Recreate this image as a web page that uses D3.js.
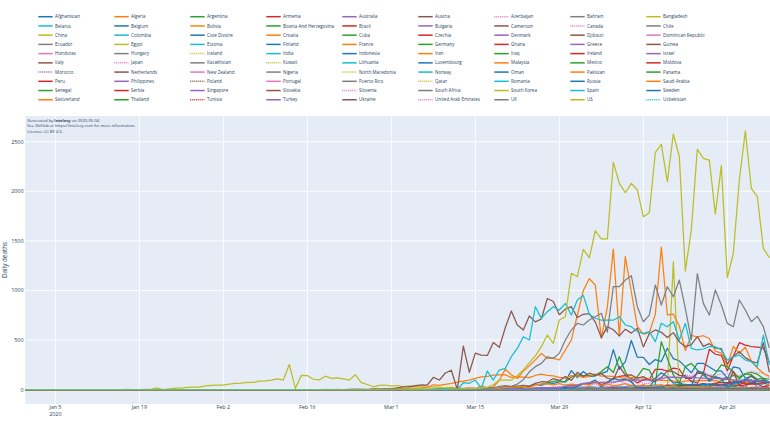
<!DOCTYPE html>
<html>
<head>
<meta charset="utf-8">
<script src="https://cdn.jsdelivr.net/npm/d3@7"></script>
<style>
html,body{margin:0;padding:0;background:#fff;}
svg{display:block;font-family:"Open Sans","DejaVu Sans",sans-serif;}
</style>
</head>
<body>
<svg id="chart" width="770" height="429"></svg>
<script>
// ---------------- DATA (daily deaths, each list starts at its first day in startDates) ----------------
const Afghanistan = [0,1,0,1,2,0,3,1,0,1,3,1,0,4,0,4,0,2,0,0,3,0,1,4,1,2,3,3,2,4,4,4,3];
const Algeria = [2,1,2,6,2,4,4,2,4,2,2,14,21,25,20,22,19,19,20,21,20,21,30,19,18,8,19,19,12,8,10,7,3,6,5,6,8,9,6,6,4,5,4,4,6];
const Argentina = [1,2,1,3,2,2,4,2,3,4,2,3,10,6,8,8,3,6,6,5,4,9,5,6,5,5,4,4,3,8,3,9,6,8,8,5,7,7,4,8];
const Armenia = [1,1,2,1,2,1,1,1,0,1,1,2,2,2,2,0,1,2,2,1,2,1,2,1,2,1,2,2,2,1,1,2,1];
const Australia = [1,1,0,1,1,0,2,1,3,2,1,3,3,2,2,4,5,1,3,2,1,3,2,2,1,2,0,2,4,3,4,2,5,1,1,2,1,4,0,2,0,1,0,0,0];
const Austria = [2,1,3,1,2,6,8,3,12,3,19,18,18,18,18,12,22,22,18,18,18,24,18,12,30,22,15,13,13,15,17,18,9,15,10,20,13,16,12,7,16,15,8,14,13,14,12,8,13,15];
const Azerbaijan = [1,0,1,0,1,1,0,1,1,1,0,1,0,1,0,1,1,0,0,1,0,1,1,0,0,1,1,0,1,0,1,0,1];
const Bahrain = [0,1,0,0,1,0,0,0,0,0,0,0,1,0,0,0,0,1,0,0,0,0,0,1,0,0,0,0,0,0,1,0,0];
const Bangladesh = [0,1,1,1,0,2,1,5,4,6,3,3,4,9,4,14,4,15,7,10,10,19,10,4,5,5,3,2,7,4,5,2,2];
const Belarus = [1,1,1,1,1,2,2,1,3,2,4,3,3,4,5,4,4,4,4,4,4,3,4,4,5,5,4,4,4,5,4,4,4];
const Belgium = [3,0,1,1,3,5,4,0,14,16,30,0,34,36,56,42,69,64,78,82,192,123,183,132,140,164,185,403,205,283,496,327,325,254,303,283,417,313,290,230,170,266,264,228,190,190,113,230,217,115,134,98,82,71];
const Bolivia = [1,1,0,1,1,1,1,1,2,2,3,2,1,2,2,3,3,2,1,3,1,4,3,2,2,5,5,1,4,6,4,5,3];
const BosniaAndHerzegovina = [1,2,1,3,1,2,1,2,1,3,1,2,2,1,0,2,1,0,3,1,1,3,1,0,1,2,2,0,2,3,1,0,1];
const Brazil = [1,3,2,7,7,9,12,11,20,20,15,22,23,42,40,58,60,73,54,67,114,133,141,115,68,99,105,204,204,188,217,206,115,113,166,165,407,357,346,189,338,474,449,435,428,421,275];
const Bulgaria = [1,0,1,2,0,1,0,2,1,0,1,1,0,2,1,1,2,0,1,2,1,2,0,1,2,1,1,2,1,0,1,2,1];
const Cameroon = [0,1,0,2,0,1,0,1,0,3,0,1,0,2,0,0,3,0,1,0,1,0,2,1,0,0,0,1,2,0,1,3,0];
const Canada = [0,3,1,4,1,2,1,6,4,3,5,10,9,20,9,29,30,26,36,39,55,42,60,35,50,68,88,66,48,110,61,63,112,125,126,130,118,151,135,170,183,148,146,156,161,142,142,160,189,172,165,120];
const Chile = [1,0,1,0,1,1,2,0,3,2,4,4,3,3,5,1,5,3,5,2,6,7,6,8,6,5,6,6,10,5,6,6,3,5,6,9,8,10,12,7,9,12,11];
const China = [1,0,0,0,0,0,2,0,0,3,6,17,0,8,16,15,24,26,26,38,43,46,45,57,64,65,73,73,86,89,97,108,97,254,13,143,142,105,98,136,114,118,109,97,150,71,52,29,44,47,35,42,31,38,31,30,28,27,22,17,22,11,7,13,10,14,13,11,8,3,7,6,9,7,4,6,5,3,5,4,1,7,6,4,3,3,1,2,2,1,4,1,2,2,3,0,2,1290,0,0,0,0,0,0,0,0,0,0,0,0,0,0,0,0];
const Colombia = [1,2,0,3,0,2,3,3,4,8,1,3,4,6,5,10,4,4,4,10,11,15,6,6,12,9,8,10,10,12,11,5,7,14,9,11,8,13,15,7,9,16,10];
const CoteDivoire = [0,0,1,0,0,0,0,1,0,0,0,1,0,0,0,1,0,0,0,1,0,0,0,1,0,0,1,0,0,0,1,0,0];
const Croatia = [1,1,2,1,2,1,2,2,1,3,2,1,2,2,2,1,1,3,2,1,3,1,2,0,1,2,0,1,0,1,2,1,1];
const Cuba = [1,0,1,0,1,0,1,1,2,0,2,1,1,3,2,1,2,1,1,3,1,2,0,1,2,1,3,1,0,2,0,1,1];
const Czechia = [1,2,1,3,2,3,2,7,3,8,5,7,8,8,5,8,17,11,9,12,5,4,11,7,10,6,10,12,8,8,3,6,8,9,10,2,8,7,7,4,5,5,8];
const Denmark = [3,1,1,4,4,3,4,4,11,7,13,7,11,13,12,13,18,15,19,14,18,16,19,20,10,19,14,13,12,6,11,14,9,12,10,11,10,9,7,7,10,5,5,9,3,5,9,7,5,7];
const Djibouti = [0,0,0,0,0,0,0,0,1,0,0,0,0,0,0,0,0,0,1,0,0,0,0,0,0,0,0,0,0,0,0,0,0];
const DominicanRepublic = [1,1,2,1,0,3,2,3,5,4,4,6,9,5,3,8,6,8,4,9,8,3,6,7,4,8,6,5,4,6,4,6,5,3,6,3,5,4,6,4,5,4,6,5,3];
const Ecuador = [1,1,0,1,0,0,2,2,2,2,2,7,5,5,12,6,14,7,19,6,25,7,19,5,9,15,17,28,15,49,15,17,14,13,20,34,50,50,55,35,17,26,41,30,49,44,22,100,24,25,62];
const Egypt = [1,0,1,0,1,0,0,2,1,1,1,3,2,1,3,2,2,3,4,5,3,7,6,5,9,7,11,12,9,6,15,7,12,13,14,11,15,11,10,12,13,12,10,15,11,11,9,12,14,13,10,20,12,15,14];
const Estonia = [1,0,1,2,1,0,2,1,3,1,2,1,2,0,1,2,1,1,2,0,1,2,1,0,1,0,2,1,0,1,0,1,0];
const Finland = [1,0,2,1,3,2,1,2,6,3,0,6,8,2,3,7,8,13,5,9,16,8,11,10,13,13,0,16,10,5,4,8,3];
const France = [1,0,0,0,0,1,1,0,2,3,2,8,9,11,15,15,13,18,12,36,21,27,95,207,150,112,186,240,300,365,316,316,299,400,500,750,1000,1120,1053,518,833,1417,541,1341,987,635,561,574,762,1438,753,761,642,395,547,531,544,516,389,369,242,437,367,427,289,218,166,135];
const Germany = [2,0,1,2,2,3,4,4,4,8,11,13,16,24,28,33,49,55,65,84,91,77,128,149,140,145,141,184,232,173,332,181,80,131,215,198,64,484,316,148,64,232,265,198,148,97,165,249,232,181,110,163,173,156,113,74];
const Ghana = [0,1,0,0,0,1,0,0,1,0,0,0,0,1,0,0,0,0,0,0,0,0,0,0,1,0,0,0,1,0,0,0,1];
const Greece = [3,2,3,3,5,4,6,2,6,3,2,3,1,3,3,1,2,3,3,2,4,2,0,3,2,0,4,1,0,0,2,0,1];
const Guinea = [0,0,0,0,0,0,0,0,0,0,0,1,0,1,0,1,0,1,0,0,1,0,0,1,0,0,2,0,0,1,0,1,0];
const Honduras = [1,2,2,1,3,1,2,2,4,1,2,1,3,0,2,4,0,3,4,1,1,2,4,1,2,2,1,3,0,0,3,2,1];
const Hungary = [2,1,3,3,2,5,6,4,8,8,13,14,9,11,12,13,14,10,11,12,14,10,14,13,13,11,8,10,12,13,10,11,9];
const Iceland = [0,0,1,0,0,2,0,1,0,0,0,0,0,0,0,0,0,0,0,0,0,0,0,0,0,0,0,0,0,0,0,0,0];
const India = [1,1,2,3,2,4,3,4,6,5,9,4,9,12,9,12,8,25,24,22,20,33,31,43,35,51,29,36,27,22,31,44,36,41,61,42,54,46,68,66,73,69,83,97,77];
const Indonesia = [3,0,1,2,3,6,5,7,14,7,6,19,13,9,12,17,20,22,21,10,21,15,11,17,30,30,35,36,27,16,12,17,21,39,27,38,6,27,60,18,15,11,7,37,20,23,12,9,18,7];
const Iran = [2,0,2,1,3,4,3,3,7,8,9,11,12,11,15,15,16,21,49,43,54,63,75,85,97,113,129,135,147,149,149,123,129,127,122,143,157,144,139,123,117,141,138,124,134,158,136,136,133,121,117,122,125,117,111,98,94,92,89,73,87,91,88,94,90,93,76,60,96,71,80,71,63,68,47];
const Iraq = [3,4,2,2,2,3,2,3,1,2,2,2,1,0,2,1,1,1,1,2,0,0,1,0,0,1,1,1,0,1,2,1,2];
const Ireland = [1,1,0,0,0,1,0,1,3,2,1,2,7,3,14,10,10,7,14,19,17,22,15,23,16,18,16,10,25,19,12,15,31,28,19,41,43,44,38,29,31,47,44,46,185,38,49,59,55,29,41];
const Israel = [3,2,4,3,2,4,6,8,5,7,6,5,9,11,4,9,5,4,6,3,4,8,5,3,2,3,1,2,4,3,2,1,2];
const Italy = [1,1,1,4,4,1,5,4,8,5,18,27,28,41,49,47,124,97,168,196,0,439,175,368,349,345,475,427,627,793,651,601,743,683,712,919,889,756,812,837,727,760,766,681,525,636,604,542,610,570,619,431,566,602,578,525,575,482,433,454,534,437,464,420,415,260,333,382,323,285,269,474,174];
const Japan = [2,1,2,1,1,2,4,2,4,3,3,4,5,7,4,8,10,9,9,10,7,13,10,17,14,18,13,19,17,22,23,21,12];
const Kazakhstan = [0,1,0,0,1,0,1,0,0,1,0,1,0,0,1,0,0,0,1,0,1,0,0,0,1,0,0,1,0,0,0,1,0];
const Kuwait = [0,0,0,1,0,0,0,0,0,0,0,0,1,0,1,0,0,1,0,0,1,0,1,2,1,1,0,1,2,1,2,3,1];
const Lithuania = [1,0,2,1,1,0,1,2,0,1,2,1,1,0,1,2,1,0,1,0,0,1,1,0,1,0,0,1,0,1,0,0,1];
const Luxembourg = [3,1,3,2,2,1,2,3,1,2,3,1,2,3,1,1,2,0,1,2,1,0,1,1,0,0,1,0,0,0,1,0,0];
const Malaysia = [6,3,7,3,4,2,5,2,3,2,3,2,3,2,1,2,1,3,1,0,2,1,1,0,2,1,1,0,0,1,1,2,0];
const Mexico = [1,0,1,2,2,1,1,5,4,4,8,6,9,8,12,18,19,15,20,16,20,14,26,40,38,41,23,35,36,46,56,53,47,29,12,41,53,96,104,145,125,160,149,106,113,105];
const Moldova = [1,2,0,3,2,2,1,3,2,4,2,3,3,2,4,3,4,5,3,6,4,3,5,4,6,5,4,3,5,6,4,3,2];
const Morocco = [3,4,5,3,4,7,7,6,3,4,6,2,8,2,4,2,1,3,2,5,2,1,3,2,0,4,2,1,3,1,2,1,1];
const Netherlands = [1,0,0,0,1,1,1,5,2,8,4,19,15,15,33,30,36,43,34,63,80,78,112,93,132,93,175,134,166,148,164,115,101,234,147,148,115,132,94,86,122,189,181,144,142,83,67,165,138,123,112,120,43,48,86,145,84,98,69];
const NewZealand = [0,0,0,0,1,0,0,0,0,1,0,0,1,0,2,1,1,2,0,0,1,1,0,0,0,0,1,0,0,0,0,0,0];
const Nigeria = [0,1,0,0,1,0,0,1,0,0,1,1,0,1,1,0,1,0,2,1,1,2,0,1,2,1,3,1,2,3,1,2,4];
const NorthMacedonia = [1,0,1,2,1,0,1,2,1,0,2,1,1,0,2,1,0,1,2,1,0,1,1,0,1,2,0,1,0,1,1,0,1];
const Norway = [4,2,3,1,4,6,8,5,6,3,8,5,4,6,2,4,5,3,2,4,2,5,3,1,1,2,1,2,1,0,1,1,0];
const Oman = [0,1,0,0,0,1,0,0,0,1,0,0,0,0,0,1,0,0,0,0,1,0,0,0,0,0,0,1,0,0,0,1,0];
const Pakistan = [5,4,5,4,4,8,5,5,8,4,5,7,4,6,9,10,5,9,6,16,14,8,11,17,22,22,18,20,18,23,24,19,13];
const Panama = [6,3,4,5,4,3,5,4,3,6,5,3,4,3,5,4,3,4,2,5,3,4,3,2,3,4,3,2,4,3,2,3,4];
const Peru = [1,1,2,0,2,1,2,2,3,6,7,14,14,12,10,13,15,18,17,16,12,18,17,20,26,27,36,47,43,33,46,47,52,61,51,67,72,70,70,82,58,62,63,72,73];
const Philippines = [12,11,3,15,6,0,11,12,9,21,1,5,26,18,10,19,2,15,12,19,4,9,10,10,7,21,11,16,3,20,8,10,19];
const Poland = [2,1,1,2,3,5,4,5,3,8,7,11,6,10,9,10,14,7,8,20,9,11,10,6,17,15,13,7,24,17,30,25,10,12,21,11,14,30,22,19,17,19,13,25,17];
const Portugal = [1,1,1,3,6,8,5,9,10,17,10,16,19,20,22,24,27,23,37,20,25,29,34,35,29,30,35,31,34,28,32,27,32,30,29,23,27,23,26,24,35,20,15,25,18,20,25,16,16];
const PuertoRico = [2,1,1,2,0,1,3,2,1,0,2,1,3,1,1,2,2,0,1,3,1,2,0,1,2,1,0,1,2,0,1,1,0];
const Qatar = [0,0,1,0,0,1,0,0,1,0,0,0,1,0,0,0,1,0,0,1,0,0,0,0,1,0,0,0,1,0,0,0,1];
const Romania = [2,2,3,2,3,6,5,8,10,8,16,19,15,18,12,15,14,24,20,20,17,19,22,21,18,17,20,28,18,19,26,28,18,21,17,25,25,18,14,20,14,12,14];
const Russia = [1,0,0,0,0,2,0,1,0,3,8,4,7,12,4,11,13,11,16,16,17,8,24,22,18,21,28,36,41,33,42,48,45,57,51,57,47,58,66,72,101,96,57,58,76];
const SaudiArabia = [2,5,4,3,3,3,6,6,3,3,3,6,4,6,4,4,6,6,6,5,6,6,5,5,5,7,7,5,7,5,5,8,7];
const Senegal = [0,1,0,0,0,1,0,0,1,0,0,0,1,0,0,1,0,0,1,0,0,0,1,0,1,0,0,1,0,0,1,0,0];
const Serbia = [3,5,7,5,4,6,7,8,6,8,5,7,4,3,4,5,4,3,5,4,3,4,2,3,3,2,4,3,2,1,2,2,1];
const Singapore = [0,0,1,1,0,0,0,0,0,0,1,0,0,0,0,0,0,0,0,0,0,0,1,0,0,0,0,0,1,0,0,0,0];
const Slovakia = [0,0,0,0,0,0,0,1,0,0,0,1,0,2,1,0,2,1,1,2,1,0,1,0,1,0,0,2,0,0,1,0,0];
const Slovenia = [2,3,2,4,3,2,5,2,4,2,1,5,3,2,1,3,2,1,4,3,1,2,3,1,2,1,1,0,2,1,1,2,0];
const SouthAfrica = [0,2,0,2,3,2,1,2,1,5,0,7,4,2,9,4,6,1,2,7,8,6,4,4,1,8,5,10,10,13,7,8,5];
const SouthKorea = [1,1,2,2,2,1,1,3,2,4,1,2,6,4,7,3,4,3,5,6,7,6,5,3,7,3,6,5,3,4,3,3,5,6,7,3,8,3,1,4,3,4,7,4,5,6,4,3,5,8,4,3,6,4,4,3,3,4,3,4,2,1,2,3,2,1,2,1,1,2,1,0,1];
const Spain = [1,0,1,3,0,5,7,11,7,0,70,64,97,14,188,97,198,215,332,416,534,500,836,719,786,836,803,870,752,904,950,760,720,700,700,700,735,652,635,585,568,585,484,669,635,685,500,669,416,400,410,433,433,400,299,332,349,299,282,232,551,249];
const Sweden = [1,0,0,0,2,1,3,3,1,5,6,0,5,9,10,15,13,24,15,34,59,69,96,28,76,114,96,106,77,17,12,20,114,170,130,67,77,29,40,185,172,84,131,111,12,80,81,107,67,88,90,79];
const Switzerland = [1,0,1,1,0,1,3,4,2,6,9,2,10,10,26,21,29,33,19,48,56,58,48,60,45,57,48,60,49,75,42,60,38,48,60,36,38,45,33,41,51,28,41,20,31,30,28,23,19,15,14,13,17,19,14,18,9,12,11];
const Thailand = [2,1,4,3,3,1,2,4,1,2,2,1,2,2,1,1,2,1,1,1,0,0,1,0,0,1,0,0,0,0,1,0,0];
const Tunisia = [1,2,2,1,0,2,1,3,1,2,1,0,1,2,1,3,1,0,1,2,0,1,0,1,0,1,0,0,1,0,0,1,0];
const Turkey = [1,1,2,5,12,9,7,7,15,16,17,16,16,37,37,46,63,69,76,73,75,76,87,96,98,95,97,98,98,107,125,126,121,127,123,119,117,115,115,109,106,99,95,92,89,93,84,78];
const Ukraine = [3,4,5,4,3,6,7,5,5,7,6,8,8,9,8,10,12,13,10,11,9,10,12,14,12,9,10,11,13,16,14,13,12];
const UnitedArabEmirates = [2,2,1,3,2,1,2,4,1,3,4,3,2,5,3,5,4,5,3,4,3,5,4,6,5,4,3,6,7,4,6,5,6];
const UK = [1,1,0,0,2,1,1,2,1,11,14,1,20,16,33,40,33,56,100,180,232,265,332,316,366,500,601,669,652,702,735,770,580,1038,1038,1105,1149,836,685,752,1055,853,1038,937,1105,820,500,1170,870,752,1005,853,668,635,904,803,685,739,635,420];
const US = [1,5,1,3,1,2,1,4,4,4,8,3,7,10,10,18,23,50,97,97,97,140,200,270,340,433,551,467,702,735,1173,1139,1415,1330,1602,1519,1519,2292,2080,1985,2080,2013,1744,1784,2393,2473,2096,2577,2348,1196,1610,2423,2332,2315,1771,2258,1129,1375,2114,2608,2030,1945,1425,1330];
const Uzbekistan = [0,1,0,0,1,0,0,0,0,0,1,0,0,0,0,0,0,0,1,0,0,0,0,1,0,0,0,0,0,1,0,0,0];

// legend order (row by row, 9 per row) and first day of each list
const countries = [
  "Afghanistan","Algeria","Argentina","Armenia","Australia","Austria","Azerbaijan","Bahrain","Bangladesh",
  "Belarus","Belgium","Bolivia","Bosnia And Herzegovina","Brazil","Bulgaria","Cameroon","Canada","Chile",
  "China","Colombia","Cote Divoire","Croatia","Cuba","Czechia","Denmark","Djibouti","Dominican Republic",
  "Ecuador","Egypt","Estonia","Finland","France","Germany","Ghana","Greece","Guinea",
  "Honduras","Hungary","Iceland","India","Indonesia","Iran","Iraq","Ireland","Israel",
  "Italy","Japan","Kazakhstan","Kuwait","Lithuania","Luxembourg","Malaysia","Mexico","Moldova",
  "Morocco","Netherlands","New Zealand","Nigeria","North Macedonia","Norway","Oman","Pakistan","Panama",
  "Peru","Philippines","Poland","Portugal","Puerto Rico","Qatar","Romania","Russia","Saudi Arabia",
  "Senegal","Serbia","Singapore","Slovakia","Slovenia","South Africa","South Korea","Spain","Sweden",
  "Switzerland","Thailand","Tunisia","Turkey","Ukraine","United Arab Emirates","UK","US","Uzbekistan"
];
const seriesValues = [
  Afghanistan,Algeria,Argentina,Armenia,Australia,Austria,Azerbaijan,Bahrain,Bangladesh,
  Belarus,Belgium,Bolivia,BosniaAndHerzegovina,Brazil,Bulgaria,Cameroon,Canada,Chile,
  China,Colombia,CoteDivoire,Croatia,Cuba,Czechia,Denmark,Djibouti,DominicanRepublic,
  Ecuador,Egypt,Estonia,Finland,France,Germany,Ghana,Greece,Guinea,
  Honduras,Hungary,Iceland,India,Indonesia,Iran,Iraq,Ireland,Israel,
  Italy,Japan,Kazakhstan,Kuwait,Lithuania,Luxembourg,Malaysia,Mexico,Moldova,
  Morocco,Netherlands,NewZealand,Nigeria,NorthMacedonia,Norway,Oman,Pakistan,Panama,
  Peru,Philippines,Poland,Portugal,PuertoRico,Qatar,Romania,Russia,SaudiArabia,
  Senegal,Serbia,Singapore,Slovakia,Slovenia,SouthAfrica,SouthKorea,Spain,Sweden,
  Switzerland,Thailand,Tunisia,Turkey,Ukraine,UnitedArabEmirates,UK,US,Uzbekistan
];
const startDates = [
  "2020-04-01","2020-03-20","2020-03-25","2020-04-01","2020-03-20","2020-03-15","2020-04-01","2020-04-01","2020-04-01",
  "2020-04-01","2020-03-11","2020-04-01","2020-04-01","2020-03-18","2020-04-01","2020-04-01","2020-03-13","2020-03-22",
  "2020-01-11","2020-03-22","2020-04-01","2020-04-01","2020-04-01","2020-03-22","2020-03-15","2020-04-01","2020-03-20",
  "2020-03-14","2020-03-10","2020-04-01","2020-04-01","2020-02-26","2020-03-09","2020-04-01","2020-04-01","2020-04-01",
  "2020-04-01","2020-04-01","2020-04-01","2020-03-20","2020-03-15","2020-02-19","2020-04-01","2020-03-14","2020-04-01",
  "2020-02-21","2020-04-01","2020-04-01","2020-04-01","2020-04-01","2020-04-01","2020-04-01","2020-03-19","2020-04-01",
  "2020-04-01","2020-03-06","2020-04-01","2020-04-01","2020-04-01","2020-04-01","2020-04-01","2020-04-01","2020-04-01",
  "2020-03-20","2020-04-01","2020-03-20","2020-03-16","2020-04-01","2020-04-01","2020-03-22","2020-03-20","2020-04-01",
  "2020-04-01","2020-04-01","2020-04-01","2020-04-01","2020-04-01","2020-04-01","2020-02-21","2020-03-03","2020-03-13",
  "2020-03-06","2020-04-01","2020-04-01","2020-03-17","2020-04-01","2020-04-01","2020-03-05","2020-03-01","2020-04-01"
];
const firstDate = "2019-12-31";
const lastDate = "2020-05-03";
const xTickDates = ["2020-01-05","2020-01-19","2020-02-02","2020-02-16","2020-03-01","2020-03-15","2020-03-29","2020-04-12","2020-04-26"];
const xTickLabels = ["Jan 5","Jan 19","Feb 2","Feb 16","Mar 1","Mar 15","Mar 29","Apr 12","Apr 26"];
const yTickValues = [0,500,1000,1500,2000,2500];
const dottedCountries = ["Azerbaijan","Canada","Iceland","Japan","Kuwait","Morocco","North Macedonia","Poland","Qatar","Slovenia","Tunisia","United Arab Emirates","Uzbekistan"];

// ---------------- DRAWING ----------------
const palette = ["#1f77b4","#ff7f0e","#2ca02c","#d62728","#9467bd","#8c564b","#e377c2","#7f7f7f","#bcbd22","#17becf"];
const textColor = "#2a3f5f";
const parse = d3.utcParse("%Y-%m-%d");
const svg = d3.select("#chart");

const plot = {left: 25.33, right: 769.33, top: 116, bottom: 404};
const x = d3.scaleUtc().domain([parse(firstDate), parse(lastDate)]).range([plot.left, plot.right]);
const y = d3.scaleLinear().domain([-144.5, 2758.8]).range([plot.bottom, plot.top]);

svg.append("rect").attr("x", plot.left).attr("y", plot.top)
  .attr("width", 770 - plot.left).attr("height", plot.bottom - plot.top).attr("fill", "#E5ECF6");

svg.append("defs").append("clipPath").attr("id", "clip")
  .append("rect").attr("x", plot.left).attr("y", plot.top)
  .attr("width", 770 - plot.left).attr("height", plot.bottom - plot.top);

const grid = svg.append("g");
grid.selectAll("line.vx").data(xTickDates).join("line")
  .attr("x1", d => x(parse(d))).attr("x2", d => x(parse(d)))
  .attr("y1", plot.top).attr("y2", plot.bottom)
  .attr("stroke", "#fff").attr("stroke-width", 0.9);
grid.selectAll("line.hy").data(yTickValues.filter(v => v !== 0)).join("line")
  .attr("x1", plot.left).attr("x2", 770)
  .attr("y1", d => y(d)).attr("y2", d => y(d))
  .attr("stroke", "#fff").attr("stroke-width", 0.9);
grid.append("line").attr("x1", plot.left).attr("x2", 770)
  .attr("y1", y(0)).attr("y2", y(0)).attr("stroke", "#fff").attr("stroke-width", 1.8);

const series = countries.map((name, i) => {
  const start = parse(startDates[i]);
  const pts = [];
  for (let d = parse(firstDate); d < start; d = d3.utcDay.offset(d, 1)) pts.push([d, 0]);
  seriesValues[i].forEach((v, k) => pts.push([d3.utcDay.offset(start, k), v]));
  return {name, i, pts: pts.filter(p => p[0] <= parse(lastDate))};
});

const line = d3.line().x(p => x(p[0])).y(p => y(p[1]));
svg.append("g").attr("clip-path", "url(#clip)")
  .selectAll("path").data(series).join("path")
  .attr("d", s => line(s.pts))
  .attr("fill", "none")
  .attr("stroke", s => palette[s.i % 10])
  .attr("stroke-width", 1.25)
  .attr("stroke-linejoin", "round")
  .attr("stroke-dasharray", s => dottedCountries.includes(s.name) ? "1,1" : null);

const xt = svg.append("g").attr("font-size", 5.4).attr("fill", textColor).attr("text-anchor", "middle");
xTickDates.forEach((d, k) => {
  xt.append("text").attr("x", x(parse(d))).attr("y", 409.2).text(xTickLabels[k]);
});
xt.append("text").attr("x", x(parse(xTickDates[0]))).attr("y", 416).text("2020");

const yt = svg.append("g").attr("font-size", 5.4).attr("fill", textColor).attr("text-anchor", "end");
yTickValues.forEach(v => {
  yt.append("text").attr("x", 23.5).attr("y", y(v) + 1.9).text(v);
});

svg.append("text").attr("transform", "translate(6.6,260) rotate(-90)")
  .attr("text-anchor", "middle").attr("font-size", 6.3).attr("fill", textColor).text("Daily deaths");

const ann = svg.append("g").attr("font-size", 4.1).attr("fill", textColor);
const a1 = ann.append("text").attr("x", 27.3).attr("y", 121.5);
a1.append("tspan").text("Generated by ");
a1.append("tspan").attr("font-weight", "bold").text("Intelecy");
a1.append("tspan").text(" on 2020-05-04.");
ann.append("text").attr("x", 27.3).attr("y", 127.1).text("See GitHub or https://intelecy.com for more information.");
ann.append("text").attr("x", 27.3).attr("y", 132.6).text("License: CC BY 4.0.");

const lg = svg.append("g");
countries.forEach((name, i) => {
  const c = i % 9, r = Math.floor(i / 9);
  const lx = 38.3 + 76 * c, ly = 16.7 + 9.23 * r;
  lg.append("line").attr("x1", lx).attr("x2", lx + 14.4).attr("y1", ly).attr("y2", ly)
    .attr("stroke", palette[i % 10]).attr("stroke-width", 1.5)
    .attr("stroke-dasharray", dottedCountries.includes(name) ? "1,1" : null);
  lg.append("text").attr("x", lx + 16.8).attr("y", ly + 1.6)
    .attr("font-size", 4.5).attr("fill", textColor).text(name);
});
</script>
</body>
</html>
